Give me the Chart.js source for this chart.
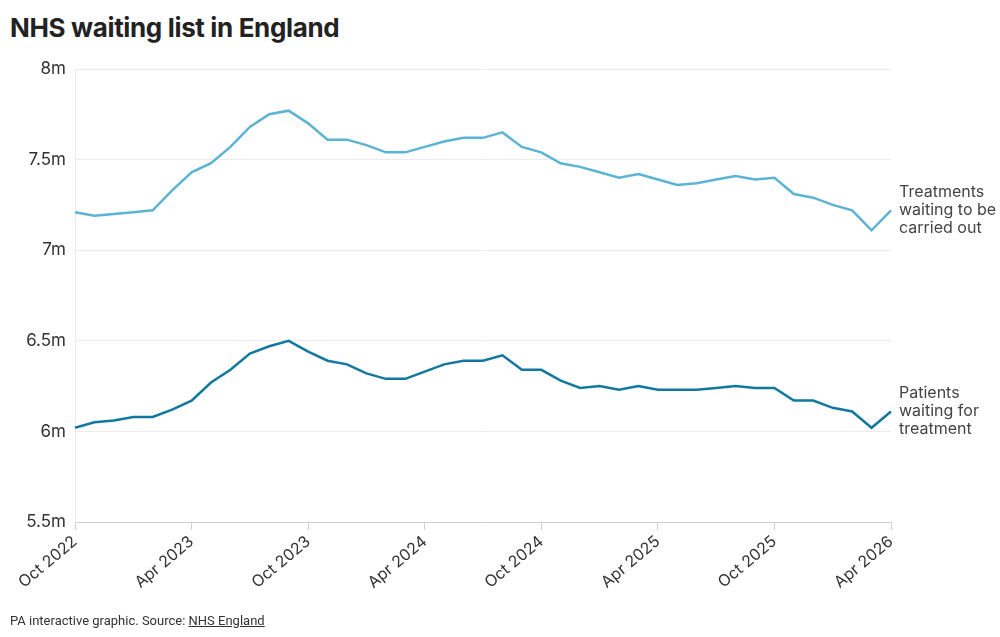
<!DOCTYPE html>
<html>
<head>
<meta charset="utf-8">
<script src="https://cdn.jsdelivr.net/npm/chart.js@4"></script>
<style>
  html, body { margin: 0; padding: 0; background: #fff; }
  body { width: 1000px; height: 637px; position: relative; overflow: hidden; font-family: Inter, "Noto Sans", sans-serif; }
  #title { position: absolute; left: 10px; top: 12px; font-size: 26px; font-weight: 700; color: #222; letter-spacing: -0.35px; }
  #footer { position: absolute; left: 10px; top: 613px; font-size: 13px; color: #333; font-family: "Liberation Sans Narrow", "Roboto", sans-serif; letter-spacing: 0px; }
  #footer u { text-decoration: underline; }
  #wrap { position: absolute; left: 0; top: 0; width: 1000px; height: 637px; }
</style>
</head>
<body>
<div id="title">NHS waiting list in England</div>
<div id="wrap"><canvas id="c" width="1000" height="637"></canvas></div>
<div id="footer">PA interactive graphic. Source: <u>NHS England</u></div>
<script>
const months = [
  "Oct 2022","Nov 2022","Dec 2022","Jan 2023","Feb 2023","Mar 2023","Apr 2023","May 2023","Jun 2023","Jul 2023","Aug 2023","Sep 2023",
  "Oct 2023","Nov 2023","Dec 2023","Jan 2024","Feb 2024","Mar 2024","Apr 2024","May 2024","Jun 2024","Jul 2024","Aug 2024","Sep 2024",
  "Oct 2024","Nov 2024","Dec 2024","Jan 2025","Feb 2025","Mar 2025","Apr 2025","May 2025","Jun 2025","Jul 2025","Aug 2025","Sep 2025",
  "Oct 2025","Nov 2025","Dec 2025","Jan 2026","Feb 2026","Mar 2026","Apr 2026"
];
const treatments = [7.21,7.19,7.20,7.21,7.22,7.33,7.43,7.48,7.57,7.68,7.75,7.77,7.70,7.61,7.61,7.58,7.54,7.54,7.57,7.60,7.62,7.62,7.65,7.57,7.54,7.48,7.46,7.43,7.40,7.42,7.39,7.36,7.37,7.39,7.41,7.39,7.40,7.31,7.29,7.25,7.22,7.11,7.22];
const patients = [6.02,6.05,6.06,6.08,6.08,6.12,6.17,6.27,6.34,6.43,6.47,6.50,6.44,6.39,6.37,6.32,6.29,6.29,6.33,6.37,6.39,6.39,6.42,6.34,6.34,6.28,6.24,6.25,6.23,6.25,6.23,6.23,6.23,6.24,6.25,6.24,6.24,6.17,6.17,6.13,6.11,6.02,6.11];
const seriesLabels = [["Treatments","waiting to be","carried out"],["Patients","waiting for","treatment"]];
const yTicks = [5.5,6,6.5,7,7.5,8];
const tickEvery = 6;

const endLabels = {
  id: 'endLabels',
  afterDatasetsDraw(chart) {
    const ctx = chart.ctx;
    ctx.save();
    ctx.font = '16px Inter, "Noto Sans", sans-serif';
    ctx.fillStyle = '#444';
    ctx.textAlign = 'left';
    ctx.textBaseline = 'middle';
    chart.data.datasets.forEach((ds, i) => {
      const meta = chart.getDatasetMeta(i);
      const pt = meta.data[meta.data.length - 1];
      const lines = seriesLabels[i];
      const lh = 18;
      lines.forEach((t, j) => {
        ctx.fillText(t, chart.chartArea.right + 8, pt.y + (j - 1) * lh);
      });
    });
    ctx.restore();
  }
};

new Chart(document.getElementById('c'), {
  type: 'line',
  data: {
    labels: months,
    datasets: [
      { label: 'Treatments waiting to be carried out', data: treatments, borderColor: '#5BB3D5', borderWidth: 2.5, pointRadius: 0, tension: 0 },
      { label: 'Patients waiting for treatment', data: patients, borderColor: '#12789F', borderWidth: 2.5, pointRadius: 0, tension: 0 }
    ]
  },
  options: {
    responsive: false,
    animation: false,
    layout: { padding: { left: 0, right: 109, top: 69, bottom: 45 } },
    plugins: { legend: { display: false }, tooltip: { enabled: false }, title: { display: false } },
    scales: {
      x: {
        offset: false,
        grid: {
          drawOnChartArea: false,
          drawTicks: true,
          tickLength: 8,
          tickColor: (c) => (c.index % tickEvery === 0 ? '#d0d0d0' : 'rgba(0,0,0,0)')
        },
        border: { display: true, color: '#d0d0d0', width: 1 },
        ticks: {
          autoSkip: false,
          minRotation: 40,
          maxRotation: 40,
          padding: 2,
          color: '#333',
          font: { family: 'Inter, "Noto Sans", sans-serif', size: 16 },
          callback: function(v, i) { return i % tickEvery === 0 ? months[i] : ''; }
        },
        afterFit(scale) { scale.height = 70; }
      },
      y: {
        min: 5.5,
        max: 8,
        afterBuildTicks(scale) { scale.ticks = yTicks.map(v => ({ value: v })); },
        grid: { color: '#ebebeb', drawTicks: false, lineWidth: 1 },
        border: { display: true, color: '#ebebeb' },
        ticks: {
          padding: 9,
          color: '#333',
          font: { family: 'Inter, "Noto Sans", sans-serif', size: 17 },
          callback: (v) => v + 'm'
        },
        afterFit(scale) { scale.width = 75; }
      }
    }
  },
  plugins: [endLabels]
});
</script>
</body>
</html>
